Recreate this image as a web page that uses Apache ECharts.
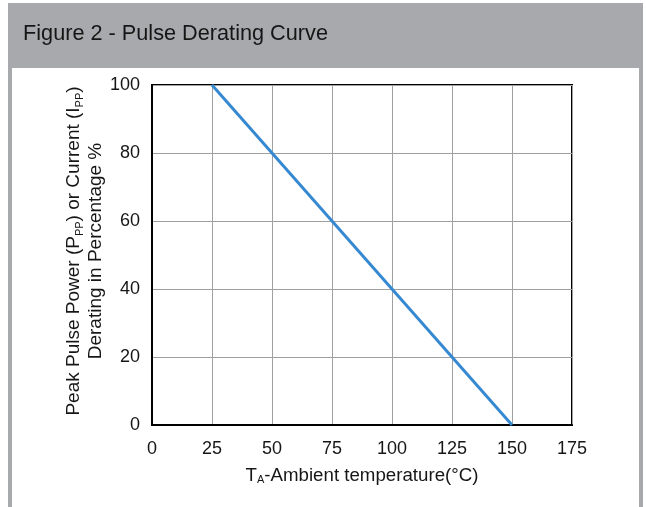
<!DOCTYPE html>
<html><head><meta charset="utf-8">
<script src="https://cdn.jsdelivr.net/npm/echarts@6/dist/echarts.min.js"></script>
<style>html,body{margin:0;padding:0;background:#fff}#c{width:646px;height:507px}</style>
</head><body><div id="c"></div>
<script>
var titleText = 'Figure 2 - Pulse Derating Curve';
var xTicks = [0, 25, 50, 75, 100, 125, 150, 175];
var yTicks = [0, 20, 40, 60, 80, 100];
var tempC = [25, 150];
var deratingPct = [100, 0];

var chart = echarts.init(document.getElementById('c'), null, {renderer: 'canvas'});
var font = '"Liberation Sans", Arial, sans-serif';
var data = tempC.map(function (t, i) { return [t, deratingPct[i]]; });
chart.setOption({
  animation: false,
  backgroundColor: '#ffffff',
  graphic: [
    {type: 'rect', shape: {x: 8, y: 3, width: 635, height: 504}, style: {fill: '#a8a9ac'}, z: -10},
    {type: 'rect', shape: {x: 12, y: 68, width: 627, height: 439}, style: {fill: '#ffffff'}, z: -9},
    {type: 'text', left: 23, top: 23, style: {text: titleText, font: '21.7px ' + font, fill: '#161616'}}
  ],
  grid: {left: 152, top: 85, right: 74, bottom: 82, show: true, borderColor: '#000', borderWidth: 2, backgroundColor: 'transparent'},
  xAxis: {
    type: 'value', min: xTicks[0], max: xTicks[xTicks.length - 1], interval: 25,
    name: 'T{sub|A}-Ambient temperature(°C)', nameLocation: 'middle', nameGap: 41,
    nameTextStyle: {fontSize: 18.7, color: '#161616', fontFamily: font,
      rich: {sub: {fontSize: 11, color: '#161616', fontFamily: font, verticalAlign: 'bottom', padding: [7, 0, 0, 0]}}},
    axisLine: {show: true, lineStyle: {color: '#000', width: 2}},
    axisTick: {show: false},
    axisLabel: {fontSize: 18, color: '#161616', fontFamily: font, margin: 15},
    splitLine: {show: true, lineStyle: {color: '#a0a0a0', width: 1}}
  },
  yAxis: {
    type: 'value', min: yTicks[0], max: yTicks[yTicks.length - 1], interval: 20,
    name: 'Peak Pulse Power (P{sub|PP}) or Current (I{sub|PP})\nDerating in Percentage %',
    nameLocation: 'middle', nameGap: 45, nameMoveOverlap: false,
    nameTextStyle: {fontSize: 19, color: '#161616', fontFamily: font, lineHeight: 22, align: 'center',
      padding: [0, 0, 0, 8],
      rich: {sub: {fontSize: 11, color: '#161616', fontFamily: font, lineHeight: 22, verticalAlign: 'bottom'}}},
    axisLine: {show: true, lineStyle: {color: '#000', width: 2}},
    axisTick: {show: false},
    axisLabel: {fontSize: 18, color: '#161616', fontFamily: font, margin: 12},
    splitLine: {show: true, lineStyle: {color: '#a0a0a0', width: 1}}
  },
  series: [{
    type: 'line', data: data, symbol: 'none',
    lineStyle: {color: '#3689d1', width: 3}
  }]
});
</script></body></html>
